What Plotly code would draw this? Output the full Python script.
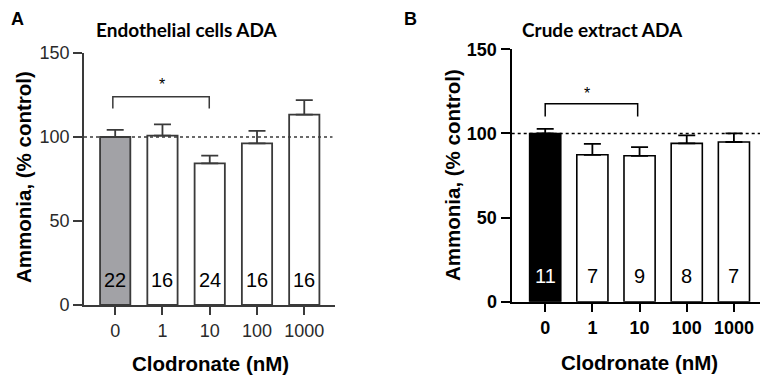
import plotly.graph_objects as go

categories = ["0", "1", "10", "100", "1000"]
a_values = [100.0, 100.8, 84.3, 96.2, 113.3]
a_errors = [4.3, 6.7, 4.6, 7.4, 8.7]
a_counts = ["22", "16", "24", "16", "16"]
b_values = [100.0, 87.3, 86.7, 94.1, 94.9]
b_errors = [2.7, 6.5, 5.2, 4.7, 5.1]
b_counts = ["11", "7", "9", "8", "7"]
y_ticks = [0, 50, 100, 150]

W, H = 768, 377
OFF = 8  # page body margin shifts the figure by 8 px


def xp(X):
    return (X - OFF) / W


def yp(Y):
    return 1 - (Y - OFF) / H


A_dom_x = [xp(84), xp(335)]
A_dom_y = [yp(305), yp(53)]
B_dom_x = [xp(511.7), xp(766)]
B_dom_y = [yp(301.7), yp(49.3)]

SANS = "Liberation Sans, Arial, sans-serif"
TITLEF = "Lato, Open Sans, sans-serif"

fig = go.Figure()
xs = list(range(len(categories)))

fig.add_trace(go.Bar(
    x=xs, y=a_values, xaxis="x", yaxis="y",
    marker=dict(color=["#a2a2a6"] + ["white"] * 4, line=dict(color="#3a3a3a", width=1.8)),
    width=0.64,
    error_y=dict(type="data", symmetric=False, array=a_errors, arrayminus=[0] * 5,
                 color="#3a3a3a", thickness=1.8, width=8.5),
    showlegend=False, hoverinfo="skip"))
fig.add_trace(go.Bar(
    x=xs, y=b_values, xaxis="x2", yaxis="y2",
    marker=dict(color=["black"] + ["white"] * 4, line=dict(color="black", width=1.6)),
    width=0.66,
    error_y=dict(type="data", symmetric=False, array=b_errors, arrayminus=[0] * 5,
                 color="black", thickness=1.8, width=8.5),
    showlegend=False, hoverinfo="skip"))


def ann(**kw):
    kw.setdefault("showarrow", False)
    kw.setdefault("xanchor", "center")
    kw.setdefault("yanchor", "middle")
    fig.add_annotation(**kw)


# count labels
for i, c in enumerate(a_counts):
    ann(x=xs[i], y=15, xref="x", yref="y", text=c,
        font=dict(family=SANS, size=20, color="black"))
for i, c in enumerate(b_counts):
    ann(x=xs[i], y=15.3, xref="x2", yref="y2", text=c,
        font=dict(family=SANS, size=20, color="white" if i == 0 else "black"))

# dotted reference lines
fig.add_shape(type="line", xref="x domain", yref="y", x0=0, x1=0.99, y0=100, y1=100,
              line=dict(color="#3a3a3a", width=1.5, dash="dot"))
fig.add_shape(type="line", xref="x2 domain", yref="y2", x0=0, x1=1, y0=100, y1=100,
              line=dict(color="black", width=1.5, dash="dot"))

# significance brackets
fig.add_shape(type="path", xref="x", yref="y",
              path="M -0.05,117 L -0.05,124 L 1.99,124 L 1.99,117",
              line=dict(color="#3a3a3a", width=1.5))
ann(x=1, y=131, xref="x", yref="y", text="*", font=dict(family=SANS, size=16, color="black"))
fig.add_shape(type="path", xref="x2", yref="y2",
              path="M 0,110 L 0,117.6 L 1.96,117.6 L 1.96,110",
              line=dict(color="black", width=1.5))
ann(x=0.88, y=123.5, xref="x2", yref="y2", text="*", font=dict(family=SANS, size=16, color="black"))

# panel labels & titles
ann(x=xp(17), y=yp(19), xref="paper", yref="paper", text="<b>A</b>",
    font=dict(family=SANS, size=18, color="black"))
ann(x=xp(410), y=yp(19), xref="paper", yref="paper", text="<b>B</b>",
    font=dict(family=SANS, size=18, color="black"))
ann(x=xp(187), y=yp(29), xref="paper", yref="paper", text="<b>Endothelial cells ADA</b>",
    font=dict(family=TITLEF, size=19, color="black"))
ann(x=xp(602), y=yp(29), xref="paper", yref="paper", text="<b>Crude extract ADA</b>",
    font=dict(family=TITLEF, size=19, color="black"))

# axis titles
ann(x=xp(23), y=yp(177), xref="paper", yref="paper", text="<b>Ammonia, (% control)</b>",
    textangle=-90, font=dict(family=SANS, size=20.5, color="black"))
ann(x=xp(452), y=yp(175), xref="paper", yref="paper", text="<b>Ammonia, (% control)</b>",
    textangle=-90, font=dict(family=SANS, size=20.5, color="black"))
ann(x=xp(210), y=yp(363), xref="paper", yref="paper", text="<b>Clodronate (nM)</b>",
    font=dict(family=SANS, size=20.5, color="black"))
ann(x=xp(639), y=yp(362), xref="paper", yref="paper", text="<b>Clodronate (nM)</b>",
    font=dict(family=SANS, size=20.5, color="black"))

common_x = dict(tickmode="array", tickvals=xs, ticktext=categories, ticks="outside",
                ticklen=8, showgrid=False, zeroline=False, showline=True, fixedrange=True,
                automargin=False)
common_y = dict(tickmode="array", tickvals=y_ticks, ticks="outside", ticklen=9,
                showgrid=False, zeroline=False, showline=True, range=[0, 150],
                automargin=False)

fig.update_layout(
    width=W, height=H, margin=dict(l=0, r=0, t=0, b=0, pad=0, autoexpand=False),
    paper_bgcolor="white", plot_bgcolor="white",
    xaxis=dict(domain=A_dom_x, anchor="y", range=[-0.66, 4.65],
               tickfont=dict(family=SANS, size=18, color="#2a2a2a"),
               linecolor="#3a3a3a", linewidth=1.8, tickcolor="#3a3a3a", tickwidth=1.8, **common_x),
    yaxis=dict(domain=A_dom_y, anchor="x",
               tickfont=dict(family=SANS, size=18, color="#2a2a2a"),
               linecolor="#3a3a3a", linewidth=1.8, tickcolor="#3a3a3a", tickwidth=1.8, **common_y),
    xaxis2=dict(domain=B_dom_x, anchor="y2", range=[-0.71, 4.68],
                tickfont=dict(family=SANS, size=18, color="black", weight="bold"),
                linecolor="black", linewidth=2.4, tickcolor="black", tickwidth=2.4, **common_x),
    yaxis2=dict(domain=B_dom_y, anchor="x2",
                tickfont=dict(family=SANS, size=18, color="black", weight="bold"),
                linecolor="black", linewidth=2.4, tickcolor="black", tickwidth=2.4, **common_y),
)

fig.write_html("out.html")
